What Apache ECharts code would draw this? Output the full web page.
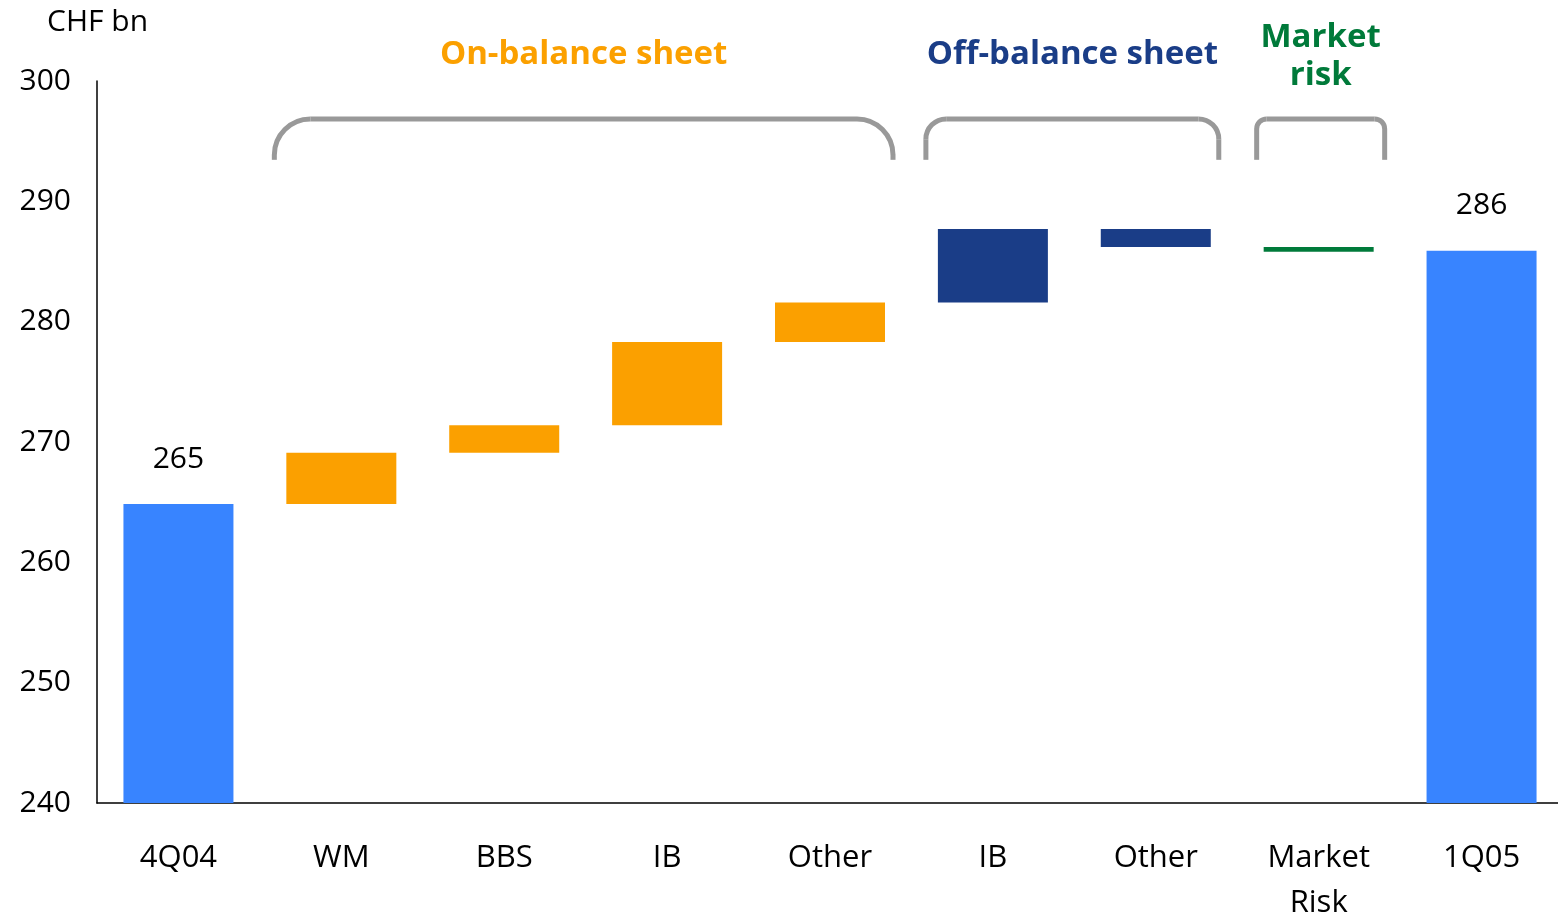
<!DOCTYPE html>
<html>
<head>
<meta charset="utf-8">
<script src="https://cdn.jsdelivr.net/npm/echarts@6/dist/echarts.min.js"></script>
<style>
  html, body { margin: 0; padding: 0; background: #fff; }
  #chart { width: 1558px; height: 919px; }
</style>
</head>
<body>
<div id="chart"></div>
<script>
// categories and step kinds
const categories = ['4Q04', 'WM', 'BBS', 'IB', 'Other', 'IB', 'Other', 'Market\nRisk', '1Q05'];
const kinds = ['total', 'on', 'on', 'on', 'on', 'off', 'off', 'mkt', 'total'];

// CHF bn: opening level, steps, closing level
const startValue = 264.85;
const steps = [4.25, 2.3, 6.9, 3.3, 6.1, -1.5, -0.4];
const endValue = 285.9;

// groups for the brackets
const groupTitles = ['On-balance sheet', 'Off-balance sheet', 'Market\nrisk'];
const groupRanges = [[1, 4], [5, 6], [7, 7]];

const yTicks = { min: 240, max: 300, step: 10 };

const colors = {
  total: '#3884ff',
  on: '#fba000',
  off: '#1a3d87',
  mkt: '#007a3a'
};
const font = '"Open Sans", "Noto Sans", sans-serif';

// build waterfall: invisible base + visible part
const baseData = [];
const valueData = [];
let level = startValue;
categories.forEach((c, i) => {
  let base, val;
  if (i === 0) {
    base = 0; val = startValue;
  } else if (i === categories.length - 1) {
    base = 0; val = endValue;
  } else {
    const d = steps[i - 1];
    base = d >= 0 ? level : level + d;
    val = Math.abs(d);
    level += d;
  }
  baseData.push(base);
  const item = { value: val, itemStyle: { color: colors[kinds[i]] } };
  if (kinds[i] === 'total') {
    item.label = {
      show: true,
      position: 'top',
      distance: 30,
      formatter: () => String(Math.round(base + val)),
      color: '#000',
      fontSize: 30,
      fontFamily: font
    };
  }
  valueData.push(item);
});

const chart = echarts.init(document.getElementById('chart'));

chart.setOption({
  animation: false,
  grid: { left: 97, right: -5, top: 81, bottom: 116, outerBoundsMode: 'none' },
  xAxis: {
    type: 'category',
    data: categories,
    axisLine: { lineStyle: { color: '#000', width: 1.5 } },
    axisTick: { show: false },
    axisLabel: {
      color: '#000',
      fontSize: 31,
      fontFamily: font,
      lineHeight: 45,
      margin: 33,
      interval: 0
    }
  },
  yAxis: {
    type: 'value',
    min: yTicks.min,
    max: yTicks.max,
    interval: yTicks.step,
    axisLine: { show: true, lineStyle: { color: '#000', width: 1.5 } },
    axisTick: { show: false },
    splitLine: { show: false },
    axisLabel: { color: '#000', fontSize: 30, fontFamily: font, margin: 26 }
  },
  series: [
    {
      type: 'bar',
      stack: 'w',
      data: baseData,
      barWidth: 110,
      itemStyle: { color: 'transparent' },
      silent: true
    },
    {
      type: 'bar',
      stack: 'w',
      data: valueData,
      barWidth: 110
    }
  ]
});

// brackets and group titles
const titleColors = [colors.on, colors.off, colors.mkt];
const bracketPad = [[67, 63], [67, 63], [62, 66]];
const stroke = { stroke: '#999', lineWidth: 5, fill: null };
const graphics = [{
  type: 'text',
  x: 47,
  y: 22,
  style: { text: 'CHF bn', fill: '#000', font: '30px ' + font, verticalAlign: 'middle' }
}];
groupRanges.forEach((r, g) => {
  const x1 = chart.convertToPixel({ xAxisIndex: 0 }, r[0]) - bracketPad[g][0];
  const x2 = chart.convertToPixel({ xAxisIndex: 0 }, r[1]) + bracketPad[g][1];
  const yt = chart.convertToPixel({ yAxisIndex: 0 }, 296.85);
  const yb = chart.convertToPixel({ yAxisIndex: 0 }, 293.45);
  const rad = Math.min(36, (x2 - x1) / 16 + 2);
  graphics.push(
    { type: 'line', shape: { x1: x1, y1: yb, x2: x1, y2: yt + rad }, style: stroke },
    { type: 'arc', shape: { cx: x1 + rad, cy: yt + rad, r: rad, startAngle: Math.PI, endAngle: Math.PI * 1.5, clockwise: true }, style: stroke },
    { type: 'line', shape: { x1: x1 + rad, y1: yt, x2: x2 - rad, y2: yt }, style: stroke },
    { type: 'arc', shape: { cx: x2 - rad, cy: yt + rad, r: rad, startAngle: Math.PI * 1.5, endAngle: Math.PI * 2, clockwise: true }, style: stroke },
    { type: 'line', shape: { x1: x2, y1: yt + rad, x2: x2, y2: yb }, style: stroke }
  );
  const lines = groupTitles[g].split('\n').length;
  graphics.push({
    type: 'text',
    x: (x1 + x2) / 2,
    y: lines > 1 ? 57 : 55,
    style: {
      text: groupTitles[g],
      fill: titleColors[g],
      font: 'bold 33px ' + font,
      align: 'center',
      verticalAlign: 'middle',
      lineHeight: 38
    }
  });
});
chart.setOption({ graphic: graphics });
</script>
</body>
</html>
